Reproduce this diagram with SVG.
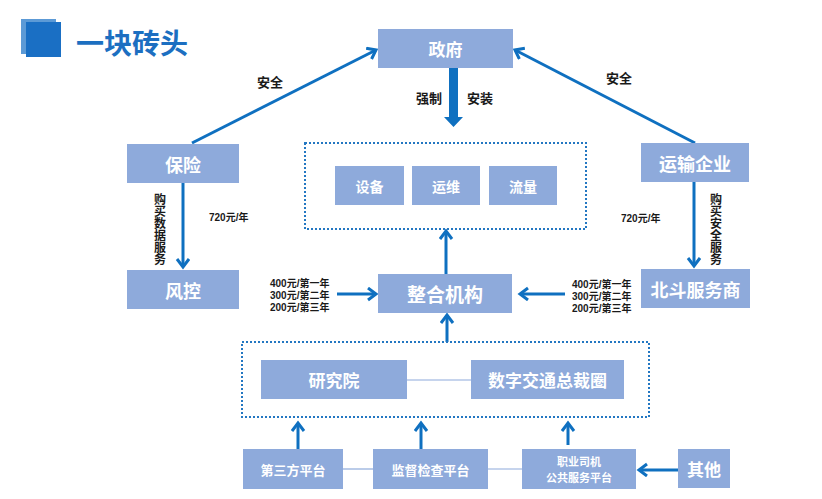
<svg xmlns="http://www.w3.org/2000/svg" width="822" height="499" viewBox="0 0 822 499">
<defs>
<style>
.box{fill:#8eaadb;}
.bt{fill:#fff;font-family:"Noto Sans CJK SC","Noto Sans",sans-serif;font-weight:bold;text-anchor:middle;dominant-baseline:central;}
.lbl{fill:#1a1a1a;font-family:"Noto Sans CJK SC","Noto Sans",sans-serif;font-weight:bold;dominant-baseline:central;}
.pr{fill:#1a1a1a;font-family:"Liberation Sans","Noto Sans CJK SC",sans-serif;font-weight:bold;font-size:10px;}
.vt{fill:#1a1a1a;font-family:"Noto Sans CJK SC",sans-serif;font-weight:bold;font-size:12px;writing-mode:vertical-rl;text-orientation:upright;}
.ar{stroke:#0f70c0;stroke-width:3;fill:none;}
.dot{fill:none;stroke:#2377c2;stroke-width:2;stroke-dasharray:2 2;}
.thin{stroke:#8eaadb;stroke-width:1.2;fill:none;}
</style>
<marker id="ah" markerUnits="userSpaceOnUse" markerWidth="14" markerHeight="16" refX="9" refY="7" orient="auto">
<path d="M1,1 L9,7 L1,13" fill="none" stroke="#0f70c0" stroke-width="3"/>
</marker>
</defs>
<rect width="822" height="499" fill="#fff"/>
<g id="title">
<rect x="21" y="19" width="35" height="35" fill="#5c9ad6"/>
<rect x="26" y="22" width="35" height="35" fill="#1a6fc4"/>
<text x="76" y="42" font-family="Noto Sans CJK SC,sans-serif" font-weight="bold" font-size="28" fill="#1c6fc1" dominant-baseline="central">一块砖头</text>
</g>
<g id="connectors">
<line class="ar" x1="192" y1="143" x2="376" y2="50" marker-end="url(#ah)"/>
<line class="ar" x1="695" y1="143" x2="515" y2="50" marker-end="url(#ah)"/>
<polygon points="449,68 458,68 458,117 463,117 453.5,127 444,117 449,117" fill="#0f70c0"/>
<line class="ar" x1="183" y1="183" x2="183" y2="267" marker-end="url(#ah)"/>
<line class="ar" x1="694" y1="182" x2="694" y2="266" marker-end="url(#ah)"/>
<line class="ar" x1="337" y1="294" x2="376" y2="294" marker-end="url(#ah)"/>
<line class="ar" x1="565" y1="294" x2="520" y2="294" marker-end="url(#ah)"/>
<line class="ar" x1="446" y1="274" x2="446" y2="231" marker-end="url(#ah)"/>
<line class="ar" x1="447" y1="342" x2="447" y2="315" marker-end="url(#ah)"/>
<line class="thin" x1="407" y1="380" x2="471" y2="380"/>
<line class="ar" x1="298" y1="449" x2="298" y2="423" marker-end="url(#ah)"/>
<line class="ar" x1="421" y1="449" x2="421" y2="423" marker-end="url(#ah)"/>
<line class="ar" x1="568" y1="445" x2="568" y2="423" marker-end="url(#ah)"/>
<line class="thin" x1="343" y1="469" x2="373" y2="469"/>
<line class="thin" x1="488" y1="469" x2="522" y2="469"/>
<line class="ar" x1="678" y1="470" x2="639" y2="470" marker-end="url(#ah)"/>
</g>
<g id="labels">
<text class="lbl" x="270" y="81" font-size="13" text-anchor="middle">安全</text>
<text class="lbl" x="619" y="77" font-size="13" text-anchor="middle">安全</text>
<text class="lbl" x="429" y="97" font-size="13" text-anchor="middle">强制</text>
<text class="lbl" x="480" y="97" font-size="13" text-anchor="middle">安装</text>
<text class="vt" x="160" y="193">购买数据服务</text>
<text class="vt" x="716" y="193">购买安全服务</text>
<text class="pr" x="209" y="221">720元/年</text>
<text class="pr" x="621" y="222">720元/年</text>
<text class="pr" x="270" y="287">400元/第一年</text>
<text class="pr" x="270" y="299">300元/第二年</text>
<text class="pr" x="270" y="311">200元/第三年</text>
<text class="pr" x="572" y="288">400元/第一年</text>
<text class="pr" x="572" y="300">300元/第二年</text>
<text class="pr" x="572" y="312">200元/第三年</text>
</g>
<g id="gov"><rect class="box" x="378" y="29" width="135" height="39"/><text class="bt" x="445.5" y="48.5" font-size="17">政府</text></g>
<g id="insurance"><rect class="box" x="127" y="144" width="112" height="39"/><text class="bt" x="183" y="163.5" font-size="18">保险</text></g>
<g id="risk"><rect class="box" x="127" y="270" width="112" height="39"/><text class="bt" x="183" y="289.5" font-size="18">风控</text></g>
<g id="transport"><rect class="box" x="641" y="143" width="108" height="39"/><text class="bt" x="695" y="162.5" font-size="18">运输企业</text></g>
<g id="beidou"><rect class="box" x="641" y="269" width="109" height="39"/><text class="bt" x="695.5" y="288.5" font-size="18">北斗服务商</text></g>
<g id="topgroup"><rect class="dot" x="305" y="143" width="281" height="86"/></g>
<g id="device"><rect class="box" x="335" y="166" width="69" height="39"/><text class="bt" x="369.5" y="185.5" font-size="14">设备</text></g>
<g id="ops"><rect class="box" x="412" y="166" width="68" height="39"/><text class="bt" x="446" y="185.5" font-size="14">运维</text></g>
<g id="traffic"><rect class="box" x="489" y="166" width="68" height="39"/><text class="bt" x="523" y="185.5" font-size="14">流量</text></g>
<g id="integrator"><rect class="box" x="378" y="274" width="134" height="39"/><text class="bt" x="445" y="293.5" font-size="19">整合机构</text></g>
<g id="bottomgroup"><rect class="dot" x="242" y="342" width="407" height="75"/></g>
<g id="institute"><rect class="box" x="261" y="360" width="146" height="39"/><text class="bt" x="334" y="379.5" font-size="17">研究院</text></g>
<g id="ceo"><rect class="box" x="471" y="360" width="153" height="39"/><text class="bt" x="547.5" y="379.5" font-size="17">数字交通总裁圈</text></g>
<g id="thirdparty"><rect class="box" x="243" y="449" width="100" height="40"/><text class="bt" x="293" y="469" font-size="13">第三方平台</text></g>
<g id="supervise"><rect class="box" x="373" y="449" width="115" height="40"/><text class="bt" x="430.5" y="469" font-size="13">监督检查平台</text></g>
<g id="driver"><rect class="box" x="522" y="449" width="114" height="40"/><text class="bt" x="579" y="461" font-size="11">职业司机</text><text class="bt" x="579" y="477" font-size="11">公共服务平台</text></g>
<g id="other"><rect class="box" x="678" y="449" width="52" height="39"/><text class="bt" x="704" y="468.5" font-size="17">其他</text></g>
</svg>
